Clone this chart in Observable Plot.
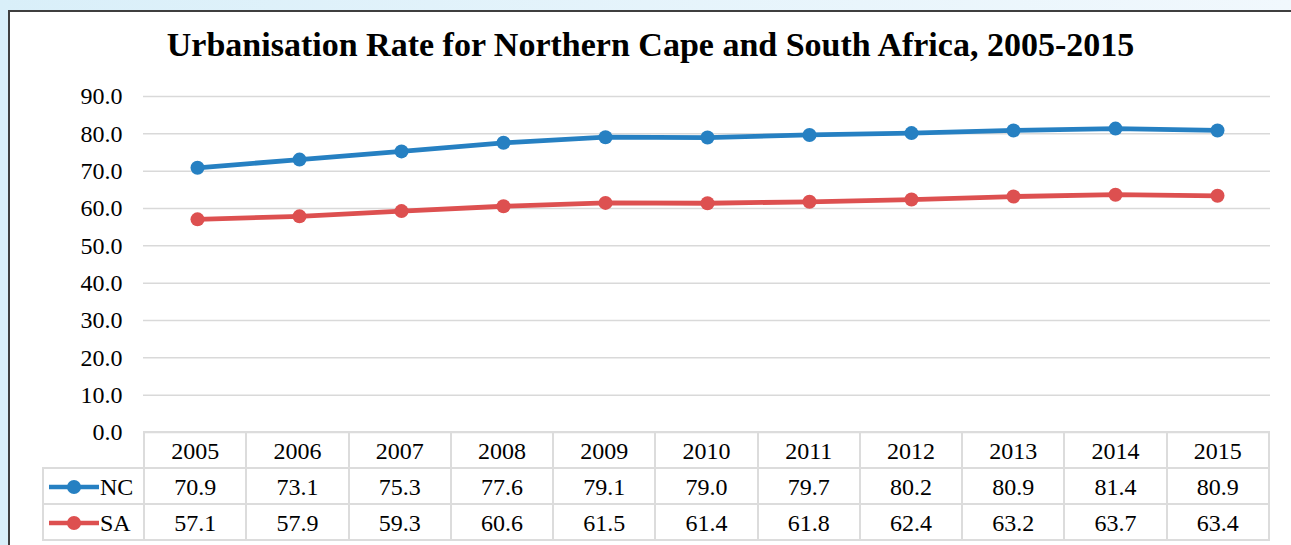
<!DOCTYPE html>
<html>
<head>
<meta charset="utf-8">
<script src="https://cdn.jsdelivr.net/npm/d3@7"></script>
<script src="https://cdn.jsdelivr.net/npm/@observablehq/plot@0.6"></script>
<style>
  html, body { margin: 0; padding: 0; width: 1291px; height: 545px; overflow: hidden; }
  body { background: linear-gradient(to right, #d9eff9, #f1f8fd); font-family: "Liberation Serif", "Times New Roman", serif; }
  #frame { position: absolute; left: 8px; top: 10px; width: 1300px; height: 560px; background: #fff;
           border-left: 2px solid #3f3f3f; border-top: 2px solid #3f3f3f; }
  #title { position: absolute; left: 0; top: 13px; width: 1281px; text-align: center; font-weight: bold;
           font-size: 34px; line-height: 40px; color: #000; white-space: nowrap; }
  #chart { position: absolute; left: 0; top: 60px; }
  #chart svg text { font-family: "Liberation Serif", "Times New Roman", serif; }
  #tbl { position: absolute; left: 32px; top: 419px; border-collapse: collapse; table-layout: fixed; width: 1228px;
         font-family: "Liberation Serif", "Times New Roman", serif; font-size: 24px; color: #000; }
  #tbl td { border: 2px solid #dcdcdc; text-align: center; padding: 3px 0 0 0; height: 31px; line-height: 31px; vertical-align: top; box-sizing: content-box; }
  #tbl td.blank { border: none; }
  #tbl td.key { text-align: left; padding-left: 4px; white-space: nowrap; }
  #tbl td.key svg { vertical-align: middle; margin-top: -5px; }
</style>
</head>
<body>
<div id="frame">
  <div id="title"></div>
  <div id="chart"></div>
  <table id="tbl"></table>
</div>
<script>
const title = "Urbanisation Rate for Northern Cape and South Africa, 2005-2015";
const years = ["2005", "2006", "2007", "2008", "2009", "2010", "2011", "2012", "2013", "2014", "2015"];
const seriesNames = ["NC", "SA"];
const ncValues = [70.9, 73.1, 75.3, 77.6, 79.1, 79.0, 79.7, 80.2, 80.9, 81.4, 80.9];
const saValues = [57.1, 57.9, 59.3, 60.6, 61.5, 61.4, 61.8, 62.4, 63.2, 63.7, 63.4];
const yTicks = [0, 10, 20, 30, 40, 50, 60, 70, 80, 90];
const seriesColors = ["#2680c2", "#dd5050"];

document.getElementById("title").textContent = title;

const valuesBySeries = {NC: ncValues, SA: saValues};
const data = seriesNames.flatMap(s => years.map((y, i) => ({series: s, year: y, value: valuesBySeries[s][i]})));

const plot = Plot.plot({
  width: 1281,
  height: 376,
  marginLeft: 133,
  marginRight: 21,
  marginTop: 24,
  marginBottom: 16,
  style: {fontFamily: "'Liberation Serif', 'Times New Roman', serif", color: "#000", background: "transparent", overflow: "visible"},
  x: {type: "point", domain: years, padding: 0.5, axis: null},
  y: {domain: [0, 90], ticks: yTicks},
  color: {domain: seriesNames, range: seriesColors},
  marks: [
    Plot.ruleY(yTicks, {stroke: "#d9d9d9", strokeWidth: 1.5}),
    Plot.axisY(yTicks, {tickSize: 0, tickPadding: 21, tickFormat: d3.format(".1f"), fontSize: 24, label: null}),
    Plot.line(data, {x: "year", y: "value", z: "series", stroke: "series", strokeWidth: 4.8, strokeLinejoin: "round"}),
    Plot.dot(data, {x: "year", y: "value", fill: "series", r: 7})
  ]
});
document.getElementById("chart").appendChild(plot);

// data table below the chart
const tbl = document.getElementById("tbl");
const colgroup = document.createElement("colgroup");
const c0 = document.createElement("col"); c0.style.width = "101px"; colgroup.appendChild(c0);
years.forEach(() => { const c = document.createElement("col"); colgroup.appendChild(c); });
tbl.appendChild(colgroup);

const head = document.createElement("tr");
const blank = document.createElement("td"); blank.className = "blank"; head.appendChild(blank);
years.forEach(y => { const td = document.createElement("td"); td.textContent = y; head.appendChild(td); });
tbl.appendChild(head);

seriesNames.forEach((s, si) => {
  const tr = document.createElement("tr");
  const key = document.createElement("td"); key.className = "key";
  const col = seriesColors[si];
  key.innerHTML = `<svg width="52" height="20"><line x1="1" y1="10" x2="51" y2="10" stroke="${col}" stroke-width="4.5"/><circle cx="26" cy="10" r="7" fill="${col}"/></svg>${s}`;
  tr.appendChild(key);
  valuesBySeries[s].forEach(v => { const td = document.createElement("td"); td.textContent = v.toFixed(1); tr.appendChild(td); });
  tbl.appendChild(tr);
});
</script>
</body>
</html>
